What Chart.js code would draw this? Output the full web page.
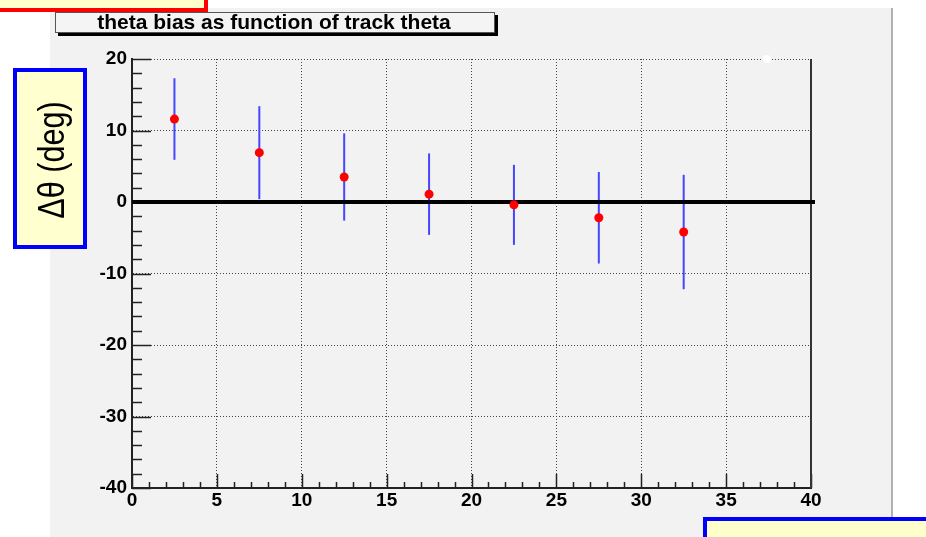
<!DOCTYPE html>
<html>
<head>
<meta charset="utf-8">
<title>theta bias as function of track theta</title>
<script src="https://cdn.jsdelivr.net/npm/chart.js@4/dist/chart.umd.min.js"></script>
<style>
  html, body { margin: 0; padding: 0; background: #ffffff; }
  #wrap { width: 926px; height: 537px; }
</style>
</head>
<body>
<div id="wrap"><canvas id="c" width="926" height="537"></canvas></div>
<script>
// Track theta bin centres (deg)
const thetaBins = [2.5, 7.5, 12.5, 17.5, 22.5, 27.5, 32.5];
// Mean theta bias per bin (deg)
const thetaBias = [11.6, 6.9, 3.5, 1.1, -0.4, -2.2, -4.2];
// Symmetric error on the bias (deg)
const biasError = [5.7, 6.5, 6.1, 5.7, 5.6, 6.4, 8.0];
// Stray marker sitting on the upper frame
const markerX = [37.4];
const markerY = [20];
// Axis tick labels
const xTickValues = [0, 5, 10, 15, 20, 25, 30, 35, 40];
const yTickValues = [-40, -30, -20, -10, 0, 10, 20];

const titleText = 'theta bias as function of track theta';
const yAxisText = '\u0394\u03b8 (deg)';

const SANS = '"Liberation Sans", Arial, Helvetica, sans-serif';

// Canvas decorations: page, grey pad, title box, annotation boxes
const padPlugin = {
  id: 'pad',
  beforeDraw(chart) {
    const ctx = chart.ctx;
    ctx.save();
    ctx.fillStyle = '#ffffff';
    ctx.fillRect(0, 0, chart.width, chart.height);
    // grey pad
    ctx.fillStyle = '#f2f2f2';
    ctx.fillRect(50, 8, 841, 529);
    ctx.fillStyle = '#b0b0b0';
    ctx.fillRect(891, 8, 2, 529);
    // title box with drop shadow
    ctx.fillStyle = '#000000';
    ctx.fillRect(58, 15, 440, 21);
    ctx.fillStyle = '#f4f4f4';
    ctx.fillRect(55.5, 12.5, 439, 20);
    ctx.strokeStyle = '#555555';
    ctx.lineWidth = 1;
    ctx.strokeRect(55.5, 12.5, 439, 20);
    ctx.fillStyle = '#000000';
    ctx.font = 'bold 21px ' + SANS;
    ctx.textAlign = 'center';
    ctx.textBaseline = 'middle';
    ctx.fillText(titleText, 274, 23);
    ctx.restore();
  },
  afterDraw(chart) {
    const ctx = chart.ctx;
    ctx.save();
    // top-left annotation box
    ctx.fillStyle = '#ffffcc';
    ctx.fillRect(-10, -10, 218, 21);
    ctx.strokeStyle = '#ff0000';
    ctx.lineWidth = 4;
    ctx.strokeRect(-10, -10, 216, 20);
    // y axis title box
    ctx.fillStyle = '#ffffd0';
    ctx.fillRect(15, 70, 70, 177);
    ctx.strokeStyle = '#0000ff';
    ctx.lineWidth = 4;
    ctx.strokeRect(15, 70, 70, 177);
    ctx.translate(54, 160);
    ctx.rotate(-Math.PI / 2);
    ctx.scale(0.85, 1);
    ctx.fillStyle = '#000000';
    ctx.font = '36px ' + SANS;
    ctx.textAlign = 'center';
    ctx.textBaseline = 'middle';
    ctx.fillText(yAxisText, 0, 0);
    ctx.setTransform(1, 0, 0, 1, 0, 0);
    // bottom-right annotation box
    ctx.fillStyle = '#ffffcc';
    ctx.fillRect(705, 519, 240, 40);
    ctx.strokeStyle = '#0000ff';
    ctx.lineWidth = 4;
    ctx.strokeRect(705, 519, 240, 40);
    ctx.restore();
  }
};

// Inside tick marks, right frame, zero line and error bars
const framePlugin = {
  id: 'frame',
  beforeDatasetsDraw(chart) {
    const ctx = chart.ctx;
    const xs = chart.scales.x, ys = chart.scales.y;
    const a = chart.chartArea;
    ctx.save();
    ctx.strokeStyle = '#222222';
    ctx.lineWidth = 1.5;
    // x ticks (every unit, long every 5)
    for (let v = xs.min; v <= xs.max; v += 1) {
      const px = Math.round(xs.getPixelForValue(v)) + 0.5;
      const len = (v % 5 === 0) ? 14 : 6;
      ctx.beginPath();
      ctx.moveTo(px, a.bottom);
      ctx.lineTo(px, a.bottom - len);
      ctx.stroke();
    }
    // y ticks (every 2, long every 10)
    for (let v = ys.min; v <= ys.max; v += 2) {
      const py = Math.round(ys.getPixelForValue(v)) + 0.5;
      const len = (v % 10 === 0) ? 19 : 10;
      ctx.beginPath();
      ctx.moveTo(a.left, py);
      ctx.lineTo(a.left + len, py);
      ctx.stroke();
    }
    // right frame
    ctx.strokeStyle = '#333333';
    ctx.lineWidth = 2;
    ctx.beginPath();
    ctx.moveTo(a.right, a.top);
    ctx.lineTo(a.right, a.bottom);
    ctx.stroke();
    // error bars
    ctx.strokeStyle = 'rgb(70,70,255)';
    ctx.lineWidth = 2;
    thetaBins.forEach((x, i) => {
      const px = xs.getPixelForValue(x);
      ctx.beginPath();
      ctx.moveTo(px, ys.getPixelForValue(thetaBias[i] + biasError[i]));
      ctx.lineTo(px, ys.getPixelForValue(thetaBias[i] - biasError[i]));
      ctx.stroke();
    });
    // zero line
    const y0 = ys.getPixelForValue(0);
    ctx.strokeStyle = '#000000';
    ctx.lineWidth = 4;
    ctx.beginPath();
    ctx.moveTo(a.left, y0);
    ctx.lineTo(a.right + 4, y0);
    ctx.stroke();
    ctx.restore();
  }
};

const gridColor = (hidden) => (c) => hidden.includes(c.tick.value) ? 'rgba(0,0,0,0)' : '#444444';

new Chart(document.getElementById('c'), {
  type: 'scatter',
  data: {
    datasets: [
      {
        label: 'theta bias',
        data: thetaBins.map((x, i) => ({ x: x, y: thetaBias[i] })),
        pointRadius: 4.5,
        pointBackgroundColor: '#ff0000',
        pointBorderWidth: 0,
        pointHoverRadius: 4.5
      },
      {
        label: 'marker',
        data: markerX.map((x, i) => ({ x: x, y: markerY[i] })),
        pointRadius: 4,
        pointBackgroundColor: '#ffffff',
        pointBorderWidth: 0,
        clip: false
      }
    ]
  },
  options: {
    responsive: false,
    animation: false,
    devicePixelRatio: 1,
    layout: { padding: { left: 0, top: 59, right: 115, bottom: 0 } },
    plugins: { legend: { display: false }, tooltip: { enabled: false }, title: { display: false } },
    scales: {
      x: {
        type: 'linear',
        min: 0, max: 40,
        afterBuildTicks: (s) => { s.ticks = xTickValues.map(v => ({ value: v })); },
        afterFit: (s) => { s.height = 49; },
        ticks: { color: '#000000', font: { family: SANS, size: 19, weight: 'bold' }, padding: 1, maxRotation: 0, autoSkip: false },
        grid: { drawTicks: false, color: gridColor([0, 40]), lineWidth: 1 },
        border: { display: true, color: '#222222', width: 2, dash: [1, 2] }
      },
      y: {
        type: 'linear',
        min: -40, max: 20,
        afterBuildTicks: (s) => { s.ticks = yTickValues.map(v => ({ value: v })); },
        afterFit: (s) => { s.width = 132; },
        ticks: { color: '#000000', font: { family: SANS, size: 19, weight: 'bold' }, padding: 5, autoSkip: false },
        grid: { drawTicks: false, color: gridColor([-40]), lineWidth: 1 },
        border: { display: true, color: '#222222', width: 2, dash: [1, 2] }
      }
    }
  },
  plugins: [padPlugin, framePlugin]
});
</script>
</body>
</html>
